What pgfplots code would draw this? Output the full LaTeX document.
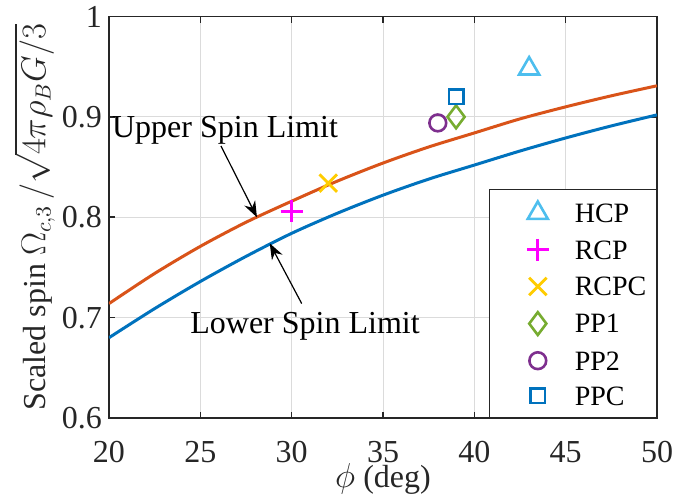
\documentclass[border=0pt]{standalone}
\usepackage{amsmath}
\usepackage{fontspec}
\setmainfont{Liberation Serif}
\usepackage{pgfplots}
\pgfplotsset{compat=1.18}
\usetikzlibrary{arrows.meta}
\definecolor{mOrange}{rgb}{0.85,0.325,0.098}
\definecolor{mBlue}{rgb}{0,0.447,0.741}
\definecolor{mCyan}{rgb}{0.302,0.745,0.933}
\definecolor{mYellow}{rgb}{1,0.8,0}
\definecolor{mGreen}{rgb}{0.466,0.674,0.188}
\definecolor{mPurple}{rgb}{0.494,0.184,0.556}
\definecolor{mMagenta}{rgb}{1,0,1}
\begin{document}
\begin{tikzpicture}
\useasboundingbox (-54.5pt,-40.5pt) rectangle (282pt,209pt);
\begin{axis}[
  at={(0pt,0pt)}, anchor=south west,
  scale only axis, width=274pt, height=200.75pt,
  xmin=20, xmax=50, ymin=0.6, ymax=1,
  xtick={20,25,30,35,40,45,50}, ytick={0.6,0.7,0.8,0.9,1},
  grid=major, major grid style={black!14, line width=0.5pt},
  tick align=inside, major tick length=3pt,
  axis line style={black!85, line width=0.8pt},
  every tick/.style={black!85, line width=0.8pt},
  tick label style={font=\fontsize{16}{19}\selectfont, text=black!85},
  xticklabel style={yshift=-8pt},
  label style={font=\fontsize{16}{19}\selectfont, text=black!85},
  /pgf/number format/assume math mode=true,
  xlabel={$\phi$ (deg)},
  xlabel style={at={(axis description cs:0.5,0)}, anchor=center, yshift=-30.5pt, inner sep=0pt},
  ylabel={Scaled spin $\Omega_{c,3}\,/\sqrt{\vphantom{4}\smash{4\pi\rho_B G/3}}$},
  ylabel style={at={(axis description cs:-0.116,0.5)}, anchor=base, inner sep=0pt},
  legend style={at={(1,0)}, anchor=south east, draw=black!85, line width=0.6pt,
    fill=white, font=\fontsize{14}{17}\selectfont, row sep=8.2pt,
    inner xsep=5pt, inner ysep=6.2pt,
    nodes={inner sep=0pt, text height=9.3pt, text depth=0pt, anchor=base west}},
  legend cell align=left,
  legend image code/.code={\path[draw=none,fill=none] (-19pt,4.65pt) -- (18.5pt,4.65pt); \draw[mark repeat=2,mark phase=2,#1] plot coordinates {(-1pt,4.65pt)(0pt,4.65pt)(1pt,4.65pt)};},
]
\addplot[mOrange, line width=1.5pt, smooth, forget plot] coordinates {
 (20,0.714) (22.5,0.744) (25,0.771) (27.5,0.795) (30,0.816) (32.5,0.836) (35,0.854)
 (37.5,0.870) (40,0.884) (42.5,0.898) (45,0.910) (47.5,0.921) (50,0.931)};
\addplot[mBlue, line width=1.5pt, smooth, forget plot] coordinates {
 (20,0.680) (22.5,0.709) (25,0.736) (27.5,0.761) (30,0.784) (32.5,0.804) (35,0.822)
 (37.5,0.838) (40,0.852) (42.5,0.866) (45,0.879) (47.5,0.891) (50,0.902)};
\addplot[only marks, mCyan, mark=triangle, mark size=5.8pt, line width=1.3pt] coordinates {(43,0.948)};
\addlegendentry{HCP}
\addplot[only marks, mMagenta, mark=+, mark size=5.5pt, line width=1.4pt] coordinates {(30,0.806)};
\addlegendentry{RCP}
\addplot[only marks, mYellow, mark=x, mark size=6.2pt, line width=1.4pt] coordinates {(32,0.834)};
\addlegendentry{RCPC}
\addplot[only marks, mGreen, mark=diamond, mark size=5.7pt, line width=1.3pt] coordinates {(39,0.900)};
\addlegendentry{PP1}
\addplot[only marks, mPurple, mark=o, mark size=4.2pt, line width=1.3pt] coordinates {(38,0.894)};
\addlegendentry{PP2}
\addplot[only marks, mBlue, mark=square, mark size=3.6pt, line width=1.3pt] coordinates {(39,0.920)};
\addlegendentry{PPC}
\draw[-{Stealth[length=8pt,width=6pt]}, line width=0.6pt] (axis cs:26.13,0.871) -- (axis cs:28.1,0.800);
\draw[-{Stealth[length=8pt,width=6pt]}, line width=0.6pt] (axis cs:30.55,0.714) -- (axis cs:28.8,0.774);
\node[anchor=base, font=\fontsize{16}{19}\selectfont, inner sep=0pt] at (axis cs:26.35,0.879) {Upper Spin Limit};
\node[anchor=base, font=\fontsize{16}{19}\selectfont, inner sep=0pt] at (axis cs:30.73,0.684) {Lower Spin Limit};
\end{axis}
\end{tikzpicture}
\end{document}
